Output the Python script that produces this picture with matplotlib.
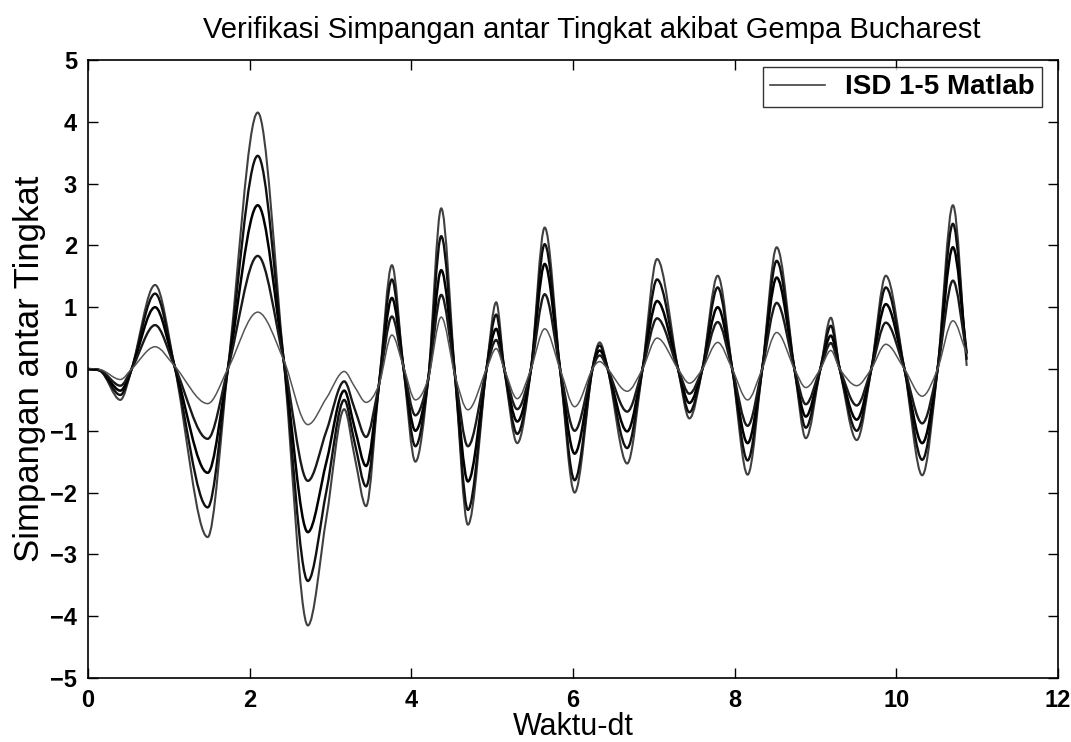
import matplotlib
matplotlib.use("Agg")
import matplotlib.pyplot as plt
from matplotlib.path import Path
from matplotlib.patches import PathPatch
from matplotlib.lines import Line2D

# Time axis (s) and inter-storey drift of storeys 1-5
t = [0.00, 0.15, 0.40, 0.54, 0.83, 1.07, 1.48, 1.73, 2.10, 2.42, 2.72, 2.95,
     3.17, 3.30, 3.44, 3.60, 3.76, 3.90, 4.05, 4.21, 4.37, 4.54, 4.70, 4.93,
     5.05, 5.15, 5.31, 5.48, 5.65, 5.84, 6.02, 6.24, 6.33, 6.43, 6.67, 6.86,
     7.04, 7.30, 7.44, 7.60, 7.79, 7.97, 8.16, 8.34, 8.52, 8.74, 8.88, 9.06,
     9.19, 9.30, 9.51, 9.69, 9.87, 10.10, 10.32, 10.51, 10.70, 10.87]

isd1 = [0, -0.03, -0.50, 0, 1.36, 0.05, -2.72, 0, 4.15, 0.15, -4.15, -2.40,
        -0.65, -1.43, -2.22, -0.25, 1.68, 0.05, -1.50, -0.15, 2.60, -0.10, -2.52, 0,
        1.08, 0, -1.20, 0, 2.29, 0, -2.00, 0, 0.43, 0, -1.53, 0,
        1.78, 0, -0.80, 0, 1.51, 0, -1.71, 0, 1.97, 0, -1.12, 0,
        0.83, 0, -1.15, 0, 1.51, 0, -1.72, 0, 2.65, 0.05]
isd2 = [0, -0.03, -0.42, 0, 1.22, 0.05, -2.24, 0, 3.45, 0.15, -3.43, -1.97,
        -0.50, -1.20, -1.90, -0.25, 1.45, 0.05, -1.25, -0.15, 2.15, -0.10, -2.28, 0,
        0.88, 0, -1.05, 0, 2.02, 0, -1.80, 0, 0.38, 0, -1.28, 0,
        1.45, 0, -0.70, 0, 1.32, 0, -1.48, 0, 1.75, 0, -0.95, 0,
        0.70, 0, -1.00, 0, 1.32, 0, -1.47, 0, 2.35, 0.15]
isd3 = [0, -0.02, -0.35, 0, 1.00, 0.05, -1.68, 0, 2.65, 0.15, -2.64, -1.50,
        -0.35, -0.96, -1.57, -0.25, 1.15, 0.05, -1.00, -0.15, 1.60, -0.10, -1.82, 0,
        0.65, 0, -0.85, 0, 1.70, 0, -1.37, 0, 0.30, 0, -1.01, 0,
        1.10, 0, -0.55, 0, 1.00, 0, -1.20, 0, 1.48, 0, -0.77, 0,
        0.54, 0, -0.82, 0, 1.05, 0, -1.20, 0, 1.97, 0.25]
isd4 = [0, -0.02, -0.27, 0, 0.71, 0.05, -1.13, 0, 1.83, 0.15, -1.81, -1.00,
        -0.20, -0.65, -1.10, -0.25, 0.85, 0.05, -0.75, -0.15, 1.20, -0.10, -1.25, 0,
        0.47, 0, -0.65, 0, 1.21, 0, -1.00, 0, 0.22, 0, -0.69, 0,
        0.82, 0, -0.40, 0, 0.76, 0, -0.92, 0, 1.07, 0, -0.57, 0,
        0.42, 0, -0.59, 0, 0.75, 0, -0.88, 0, 1.43, 0.25]
isd5 = [0, -0.01, -0.17, 0, 0.36, 0.05, -0.56, 0, 0.92, 0.15, -0.90, -0.47,
        -0.04, -0.29, -0.54, -0.25, 0.55, 0.05, -0.50, -0.15, 0.84, -0.10, -0.66, 0,
        0.33, 0, -0.48, 0, 0.65, 0, -0.61, 0, 0.12, 0, -0.36, 0,
        0.50, 0, -0.23, 0, 0.43, 0, -0.50, 0, 0.59, 0, -0.30, 0,
        0.30, 0, -0.27, 0, 0.40, 0, -0.44, 0, 0.78, 0.25]

series = [isd1, isd2, isd3, isd4, isd5]
legend_label = "ISD 1-5 Matlab"
x_ticks = [0, 2, 4, 6, 8, 10, 12]
y_ticks = [-5, -4, -3, -2, -1, 0, 1, 2, 3, 4, 5]


def smooth_path(x, y):
    """Bezier path passing through every sample (monotone cubic Hermite)."""
    n = len(x)
    sec = [(y[i + 1] - y[i]) / (x[i + 1] - x[i]) for i in range(n - 1)]
    m = [sec[0]] + [0.0] * (n - 2) + [sec[-1]]
    for i in range(1, n - 1):
        a, b = sec[i - 1], sec[i]
        if a * b <= 0:
            m[i] = 0.0
        else:
            s = (y[i + 1] - y[i - 1]) / (x[i + 1] - x[i - 1])
            lim = 3 * min(abs(a), abs(b))
            m[i] = max(-lim, min(lim, s))
    verts = [(x[0], y[0])]
    codes = [Path.MOVETO]
    for i in range(n - 1):
        h = x[i + 1] - x[i]
        verts += [(x[i] + h / 3, y[i] + m[i] * h / 3),
                  (x[i + 1] - h / 3, y[i + 1] - m[i + 1] * h / 3),
                  (x[i + 1], y[i + 1])]
        codes += [Path.CURVE4] * 3
    return Path(verts, codes)


plt.rcParams["font.family"] = ["Liberation Sans", "DejaVu Sans"]

fig = plt.figure(figsize=(10.71, 7.42), dpi=100)
ax = fig.add_axes([88 / 1071, 1 - 678 / 742, 970 / 1071, 618 / 742])

colors = ["#404040", "#101010", "#000000", "#1a1a1a", "#555555"]
widths = [1.5, 1.7, 1.8, 1.7, 1.1]
for vals, c, lw in zip(series, colors, widths):
    ax.add_patch(PathPatch(smooth_path(t, vals), facecolor="none",
                           edgecolor=c, lw=lw, joinstyle="round",
                           transform=ax.transData))

ax.set_xlim(0, 12)
ax.set_ylim(-5, 5)
ax.set_xticks(x_ticks)
ax.set_yticks(y_ticks)
ax.tick_params(direction="in", length=7, width=1, top=True, right=True,
               labelsize=17, pad=8)
for lab in ax.get_xticklabels() + ax.get_yticklabels():
    lab.set_fontweight("bold")
for s in ax.spines.values():
    s.set_linewidth(1.2)

ax.set_title("Verifikasi Simpangan antar Tingkat akibat Gempa Bucharest",
             fontsize=21, pad=16, x=0.519)
ax.set_xlabel("Waktu-dt", fontsize=22, labelpad=0)
ax.set_ylabel("Simpangan antar Tingkat", fontsize=25, labelpad=3)

handle = Line2D([], [], color=colors[0], lw=1.2)
leg = ax.legend([handle], [legend_label], loc="upper right",
                bbox_to_anchor=(0.983, 0.988), fontsize=20, frameon=True,
                fancybox=False, edgecolor="black", handlelength=2.0,
                borderpad=0.25, handletextpad=0.7, borderaxespad=0)
leg.get_frame().set_linewidth(1.0)
for txt in leg.get_texts():
    txt.set_fontweight("bold")

fig.savefig("out.png", dpi=100, facecolor="white")
